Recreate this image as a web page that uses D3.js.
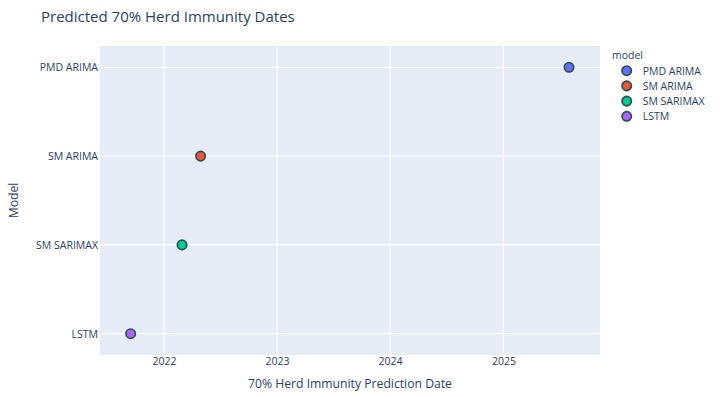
<!DOCTYPE html>
<html>
<head>
  <title>Predicted 70% Herd Immunity Dates</title>
  <style>
    body { margin: 0; background: #fff; }
    svg { font-family: "Open Sans", verdana, arial, sans-serif; }
  </style>
</head>
<body>
  <div id="chart"></div>

  <script src="https://d3js.org/d3.v7.min.js"></script>
  <script>
    // Data
    const models = ["PMD ARIMA", "SM ARIMA", "SM SARIMAX", "LSTM"];
    const dates = ["2025-08-01", "2022-04-29", "2022-02-28", "2021-09-15"];
    const colors = ["#636efa", "#EF553B", "#00cc96", "#ab63fa"];
    const xTicks = ["2022-01-01", "2023-01-01", "2024-01-01", "2025-01-01"];

    const parse = d3.timeParse("%Y-%m-%d");
    const data = models.map((m, i) => ({ model: m, date: parse(dates[i]), color: colors[i] }));

    const W = 720, H = 397;
    const plot = { left: 100, right: 600, top: 46, bottom: 355 };
    const textColor = "#2a3f5f";
    const tickFont = "10.5px";

    const svg = d3.select("#chart")
      .append("svg")
      .attr("width", W)
      .attr("height", H);

    // Scales
    const xScale = d3.scaleTime()
      .domain([parse("2021-06-08"), parse("2025-11-09")])
      .range([plot.left, plot.right]);

    const yScale = d3.scalePoint()
      .domain(models)
      .range([plot.top + 21.3, plot.bottom - 21.3]);

    // Plot background
    svg.append("rect")
      .attr("x", plot.left)
      .attr("y", plot.top)
      .attr("width", plot.right - plot.left)
      .attr("height", plot.bottom - plot.top)
      .attr("fill", "#E5ECF6");

    // Gridlines
    svg.append("g")
      .selectAll("line")
      .data(xTicks.map(parse))
      .enter()
      .append("line")
      .attr("x1", d => xScale(d))
      .attr("x2", d => xScale(d))
      .attr("y1", plot.top)
      .attr("y2", plot.bottom)
      .attr("stroke", "#fff")
      .attr("stroke-width", 1);

    svg.append("g")
      .selectAll("line")
      .data(models)
      .enter()
      .append("line")
      .attr("x1", plot.left)
      .attr("x2", plot.right)
      .attr("y1", d => yScale(d))
      .attr("y2", d => yScale(d))
      .attr("stroke", "#fff")
      .attr("stroke-width", 1);

    // Axes
    const xAxis = svg.append("g")
      .attr("transform", `translate(0, ${plot.bottom})`)
      .call(d3.axisBottom(xScale)
        .tickValues(xTicks.map(parse))
        .tickFormat(d3.timeFormat("%Y"))
        .tickSize(0)
        .tickPadding(3));
    xAxis.select(".domain").remove();
    xAxis.selectAll("text")
      .attr("fill", textColor)
      .style("font-size", tickFont)
      .style("font-family", "'Open Sans', verdana, arial, sans-serif");

    const yAxis = svg.append("g")
      .attr("transform", `translate(${plot.left}, 0)`)
      .call(d3.axisLeft(yScale).tickSize(0).tickPadding(2));
    yAxis.select(".domain").remove();
    yAxis.selectAll("text")
      .attr("fill", textColor)
      .style("font-size", tickFont)
      .style("font-family", "'Open Sans', verdana, arial, sans-serif");

    // Points
    svg.append("g")
      .selectAll("circle")
      .data(data)
      .enter()
      .append("circle")
      .attr("cx", d => xScale(d.date))
      .attr("cy", d => yScale(d.model))
      .attr("r", 4.7)
      .attr("fill", d => d.color)
      .attr("stroke", "#2F4F4F")
      .attr("stroke-width", 1.7);

    // Title
    svg.append("text")
      .attr("x", 41)
      .attr("y", 22)
      .attr("fill", textColor)
      .style("font-size", "15px")
      .text("Predicted 70% Herd Immunity Dates");

    // Axis titles
    svg.append("text")
      .attr("x", (plot.left + plot.right) / 2)
      .attr("y", 387.5)
      .attr("text-anchor", "middle")
      .attr("fill", textColor)
      .style("font-size", "12.2px")
      .text("70% Herd Immunity Prediction Date");

    svg.append("text")
      .attr("transform", `translate(17.5, ${(plot.top + plot.bottom) / 2}) rotate(-90)`)
      .attr("text-anchor", "middle")
      .attr("fill", textColor)
      .style("font-size", "12.2px")
      .text("Model");

    // Legend
    const legend = svg.append("g").attr("transform", "translate(612, 0)");
    legend.append("text")
      .attr("x", 0)
      .attr("y", 58.5)
      .attr("fill", textColor)
      .style("font-size", tickFont)
      .text("model");

    const items = legend.selectAll("g.item")
      .data(data)
      .enter()
      .append("g")
      .attr("class", "item")
      .attr("transform", (d, i) => `translate(0, ${70.7 + i * 15.2})`);
    items.append("circle")
      .attr("cx", 14.7)
      .attr("cy", 0)
      .attr("r", 4.7)
      .attr("fill", d => d.color)
      .attr("stroke", "#2F4F4F")
      .attr("stroke-width", 1.7);
    items.append("text")
      .attr("x", 30.7)
      .attr("y", 3.8)
      .attr("fill", textColor)
      .style("font-size", tickFont)
      .text(d => d.model);
  </script>
</body>
</html>
